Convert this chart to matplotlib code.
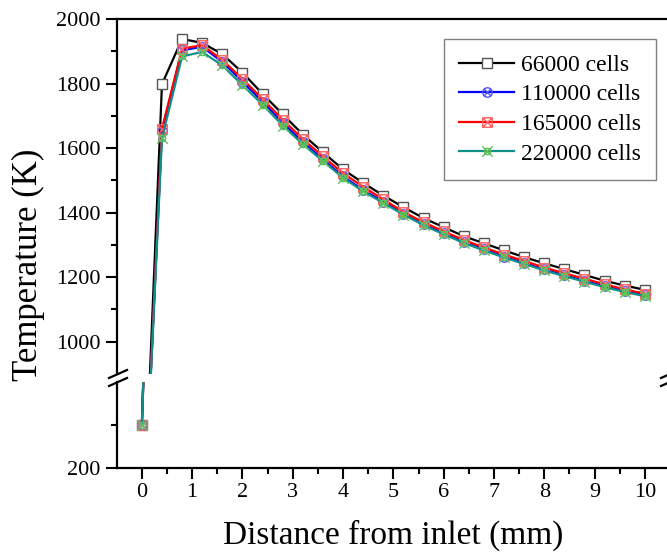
import matplotlib
matplotlib.use('Agg')
import matplotlib.pyplot as plt
from matplotlib.path import Path
from matplotlib.lines import Line2D
import numpy as np

plt.rcParams['font.family'] = ['Liberation Serif', 'DejaVu Serif']

# distance from inlet (mm)
dist = [0.0, 0.4, 0.8, 1.2, 1.6, 2.0, 2.4, 2.8, 3.2, 3.6, 4.0, 4.4, 4.8,
        5.2, 5.6, 6.0, 6.4, 6.8, 7.2, 7.6, 8.0, 8.4, 8.8, 9.2, 9.6, 10.0]

# temperature (K) for each mesh
t_66k = [300, 1798, 1938, 1926, 1891, 1834, 1768, 1705, 1642, 1587, 1534, 1492, 1453,
         1417, 1383, 1355, 1327, 1305, 1283, 1262, 1243, 1225, 1207, 1189, 1174, 1161]
t_110k = [300, 1652, 1903, 1914, 1867, 1806, 1744, 1678, 1619, 1565, 1512, 1470, 1434,
          1397, 1364, 1336, 1309, 1286, 1264, 1244, 1224, 1206, 1189, 1172, 1157, 1144]
t_165k = [300, 1660, 1908, 1919, 1873, 1814, 1752, 1688, 1628, 1574, 1522, 1480, 1441,
          1402, 1370, 1342, 1315, 1292, 1270, 1250, 1230, 1212, 1195, 1178, 1162, 1149]
t_220k = [300, 1630, 1884, 1898, 1856, 1795, 1735, 1670, 1612, 1560, 1508, 1466, 1430,
          1394, 1361, 1333, 1306, 1283, 1261, 1241, 1221, 1203, 1186, 1169, 1154, 1141]

labels = ['66000 cells', '110000 cells', '165000 cells', '220000 cells']

# custom open markers like Origin's
cross = Path([(-0.71, -0.71), (0.71, 0.71), (-0.71, 0.71), (0.71, -0.71)],
             [Path.MOVETO, Path.LINETO, Path.MOVETO, Path.LINETO])
square = Path([(-1, -1), (1, -1), (1, 1), (-1, 1), (-1, -1)],
              [Path.MOVETO, Path.LINETO, Path.LINETO, Path.LINETO, Path.CLOSEPOLY])
sq_cross = Path([(-1, -1), (1, 1), (-1, 1), (1, -1)],
                [Path.MOVETO, Path.LINETO, Path.MOVETO, Path.LINETO])
circ_x = Path.make_compound_path(Path.unit_circle(), cross)
square_x = Path.make_compound_path(square, sq_cross)
small_circ = Path(Path.unit_circle().vertices * 0.6, Path.unit_circle().codes)
star_x = Path.make_compound_path(
    Path([(-1, -1), (1, 1), (-1, 1), (1, -1)],
         [Path.MOVETO, Path.LINETO, Path.MOVETO, Path.LINETO]), small_circ)

styles = [
    dict(color='black', marker='s', mfc='white', mec='#555555', ms=6.8),
    dict(color='#0000ff', marker=circ_x, mfc='none', mec='#5050ff', ms=6.8),
    dict(color='#ff0000', marker=square_x, mfc='none', mec='#ff6060', ms=6.8),
    dict(color='#10908a', marker=star_x, mfc='none', mec='#60c060', ms=7.5),
]
series = [t_66k, t_110k, t_165k, t_220k]

W, H = 667, 554
fig = plt.figure(figsize=(W / 100, H / 100), dpi=100)

left_px, right_px = 116.7, 670.0
def fx(px):
    return px / W
def fy(py):
    return 1 - py / H

ax_top = fig.add_axes([fx(left_px), fy(374), fx(right_px - left_px), (374 - 19) / H])
ax_bot = fig.add_axes([fx(left_px), fy(467.7), fx(right_px - left_px), (467.7 - 382) / H])

for ax in (ax_top, ax_bot):
    for t, st, lab in zip(series, styles, labels):
        ax.plot(dist, t, lw=1.6, mew=1.0, label=lab, **st)
    ax.set_xlim(-0.5, 10.5)
    ax.spines['right'].set_visible(False)
    for s in ax.spines.values():
        s.set_linewidth(1.6)
    ax.tick_params(which='major', direction='out', length=8, width=1.5, labelsize=16)
    ax.tick_params(which='minor', direction='out', length=4.5, width=1.5)

ax_top.set_ylim(900, 2000)
ax_top.spines['bottom'].set_visible(False)
ax_top.set_yticks([1000, 1200, 1400, 1600, 1800, 2000])
ax_top.set_yticks([1100, 1300, 1500, 1700, 1900], minor=True)
ax_top.set_xticks([])
ax_top.set_xticks([], minor=True)

ax_bot.set_ylim(200, 400)
ax_bot.spines['top'].set_visible(False)
ax_bot.set_yticks([200])
ax_bot.set_yticks([300], minor=True)
ax_bot.set_xticks(range(0, 11))
ax_bot.set_xticks(np.arange(0.5, 10.5, 1.0), minor=True)
ax_bot.tick_params(axis='x', pad=3)
ax_bot.set_xlabel('Distance from inlet (mm)', fontsize=24, labelpad=13)

fig.text(fx(28), fy(265), 'Temperature (K)', rotation=90, fontsize=25,
         ha='center', va='center')

# break marks on both sides
for xc in (left_px + 1.3, right_px):
    for yc in (374, 382):
        fig.add_artist(Line2D([fx(xc - 9), fx(xc + 9)], [fy(yc + 4), fy(yc - 4)],
                              color='black', lw=1.6, transform=fig.transFigure))

leg = ax_top.legend(loc='upper left', bbox_to_anchor=(fx(444), fy(39)),
                    bbox_transform=fig.transFigure, borderaxespad=0,
                    fontsize=17, numpoints=1, handlelength=2.3, handletextpad=0.3,
                    labelspacing=0.34, borderpad=0.65, fancybox=False, framealpha=1)
leg.get_frame().set_edgecolor('#808080')
leg.get_frame().set_linewidth(1.0)

fig.savefig('out.png', dpi=100)
